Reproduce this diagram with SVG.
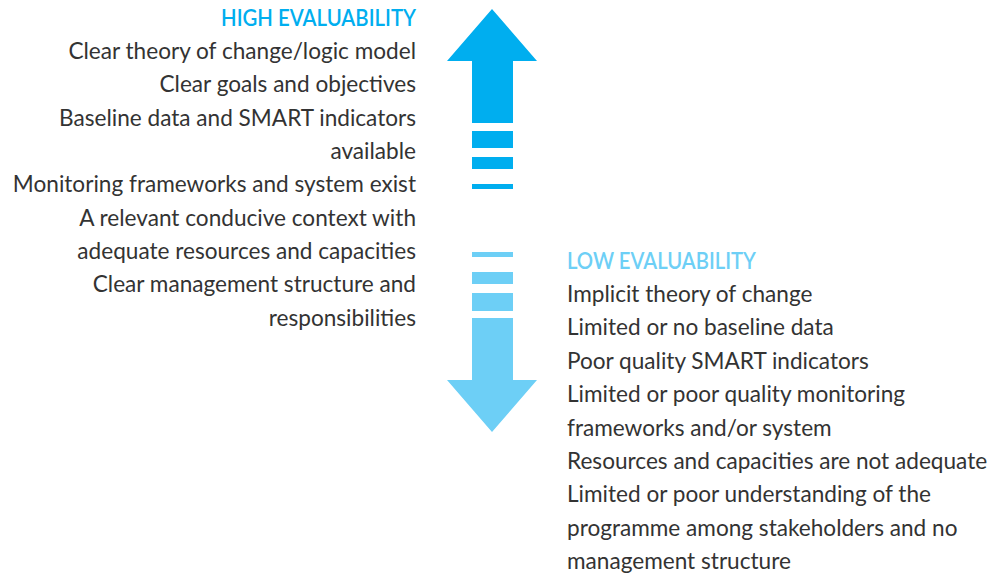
<svg xmlns="http://www.w3.org/2000/svg" width="997" height="576" viewBox="0 0 997 576">
<style>
.t{font-family:Lato,"Open Sans","Liberation Sans",sans-serif;font-size:22.6px;fill:#333333}
.h{font-family:Lato,"Open Sans","Liberation Sans",sans-serif;font-size:22px;font-weight:600;}
.hi{fill:#00AEEF}
.lo{fill:#6DCFF6}
</style>
<rect width="997" height="576" fill="#ffffff"/>
<g id="high-arrow" class="hi">
<polygon points="492,9 537,61 513,61 513,123 472,123 472,61 447,61"/>
<rect x="472" y="131" width="41" height="17"/>
<rect x="472" y="157" width="41" height="12"/>
<rect x="472" y="184" width="41" height="5"/>
</g>
<g id="low-arrow" class="lo">
<rect x="472" y="252" width="41" height="5"/>
<rect x="472" y="272" width="41" height="12"/>
<rect x="472" y="293" width="41" height="18"/>
<polygon points="472,318 513,318 513,380 537,380 492,432 447,380 472,380"/>
</g>
<g id="high-text" text-anchor="end">
<text class="h hi" x="416" y="26" textLength="195" lengthAdjust="spacingAndGlyphs">HIGH EVALUABILITY</text>
<text class="t" x="416" y="59">Clear theory of change/logic model</text>
<text class="t" x="416" y="92">Clear goals and objectives</text>
<text class="t" x="416" y="126">Baseline data and SMART indicators</text>
<text class="t" x="416" y="159">available</text>
<text class="t" x="416" y="192">Monitoring frameworks and system exist</text>
<text class="t" x="416" y="226">A relevant conducive context with</text>
<text class="t" x="416" y="259">adequate resources and capacities</text>
<text class="t" x="416" y="292">Clear management structure and</text>
<text class="t" x="416" y="326">responsibilities</text>
</g>
<g id="low-text">
<text class="h lo" x="567" y="269" textLength="189" lengthAdjust="spacingAndGlyphs">LOW EVALUABILITY</text>
<text class="t" x="567" y="302">Implicit theory of change</text>
<text class="t" x="567" y="335">Limited or no baseline data</text>
<text class="t" x="567" y="369">Poor quality SMART indicators</text>
<text class="t" x="567" y="402">Limited or poor quality monitoring</text>
<text class="t" x="567" y="436">frameworks and/or system</text>
<text class="t" x="567" y="469">Resources and capacities are not adequate</text>
<text class="t" x="567" y="502">Limited or poor understanding of the</text>
<text class="t" x="567" y="536">programme among stakeholders and no</text>
<text class="t" x="567" y="569">management structure</text>
</g>
</svg>
